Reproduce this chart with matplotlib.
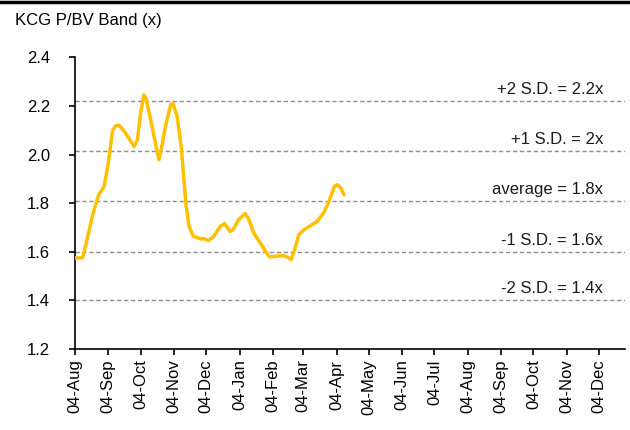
import matplotlib
matplotlib.use('Agg')
import matplotlib.pyplot as plt
import matplotlib.dates as mdates
from matplotlib.lines import Line2D
import pandas as pd

plt.rcParams['font.family'] = ['Liberation Sans', 'DejaVu Sans']

# P/BV readings
dates = ['2010-08-04', '2010-08-11', '2010-08-16', '2010-08-20', '2010-08-26',
         '2010-08-31', '2010-09-04', '2010-09-08', '2010-09-11', '2010-09-14',
         '2010-09-20', '2010-09-28', '2010-10-01', '2010-10-04', '2010-10-07',
         '2010-10-09', '2010-10-12', '2010-10-21', '2010-10-24', '2010-10-27',
         '2010-11-01', '2010-11-03', '2010-11-07', '2010-11-11', '2010-11-15',
         '2010-11-18', '2010-11-22', '2010-11-29', '2010-12-02', '2010-12-06',
         '2010-12-11', '2010-12-17', '2010-12-21', '2010-12-26', '2010-12-29',
         '2011-01-03', '2011-01-09', '2011-01-12', '2011-01-17', '2011-01-23',
         '2011-01-28', '2011-02-01', '2011-02-07', '2011-02-13', '2011-02-17',
         '2011-02-21', '2011-02-25', '2011-02-28', '2011-03-05', '2011-03-11',
         '2011-03-17', '2011-03-23', '2011-03-28', '2011-04-02', '2011-04-05',
         '2011-04-08', '2011-04-11']
pbv = [1.575, 1.575, 1.664, 1.746, 1.835,
       1.867, 1.965, 2.100, 2.118, 2.120,
       2.088, 2.033, 2.060, 2.170, 2.245,
       2.230, 2.170, 1.978, 2.040, 2.115,
       2.205, 2.211, 2.156, 2.020, 1.800,
       1.705, 1.664, 1.653, 1.654, 1.646,
       1.664, 1.705, 1.716, 1.684, 1.691,
       1.732, 1.757, 1.739, 1.678, 1.637,
       1.602, 1.579, 1.582, 1.585, 1.579,
       1.568, 1.623, 1.671, 1.691, 1.708,
       1.725, 1.760, 1.807, 1.869, 1.876,
       1.862, 1.835]

# band levels and their labels
band_levels = [2.22, 2.015, 1.807, 1.60, 1.40]
band_labels = ['+2 S.D. = 2.2x', '+1 S.D. = 2x', 'average = 1.8x',
               '-1 S.D. = 1.6x', '-2 S.D. = 1.4x']

x = pd.to_datetime(dates)

fig = plt.figure(figsize=(6.3, 4.3), dpi=100)
ax = fig.add_axes([0.119, 0.188, 0.873, 0.679])

for lvl, lab in zip(band_levels, band_labels):
    ax.axhline(lvl, color='#8c8c8c', lw=1.0, ls=(0, (3, 2)), zorder=1)
    ax.annotate(lab, xy=(0.96, lvl), xycoords=('axes fraction', 'data'),
                xytext=(0, 3), textcoords='offset points',
                ha='right', va='bottom', fontsize=12, color='#1a1a1a')

ax.plot(x, pbv, color='#FFC000', lw=2.5, solid_joinstyle='round',
        solid_capstyle='round', zorder=3)

ax.set_ylim(1.2, 2.4)
ax.set_yticks([1.2, 1.4, 1.6, 1.8, 2.0, 2.2, 2.4])
ax.yaxis.set_major_formatter(plt.FormatStrFormatter('%.1f'))
ax.set_xlim(pd.Timestamp('2010-08-04'), pd.Timestamp('2011-12-28'))
ax.xaxis.set_major_locator(mdates.MonthLocator(bymonthday=4))
ax.xaxis.set_major_formatter(mdates.DateFormatter('%d-%b'))
plt.setp(ax.get_xticklabels(), rotation=90)

for s in ['top', 'right']:
    ax.spines[s].set_visible(False)
for s in ['left', 'bottom']:
    ax.spines[s].set_linewidth(1.2)
ax.tick_params(axis='both', direction='out', length=4, width=1.2,
               labelsize=12, colors='black')
ax.tick_params(axis='y', pad=14)

fig.text(0.024, 0.953, 'KCG P/BV Band (x)', fontsize=12, va='center', ha='left')
fig.add_artist(Line2D([0, 1], [0.995, 0.995], transform=fig.transFigure,
                      color='black', lw=2.5))

fig.savefig('out.png', dpi=100)
